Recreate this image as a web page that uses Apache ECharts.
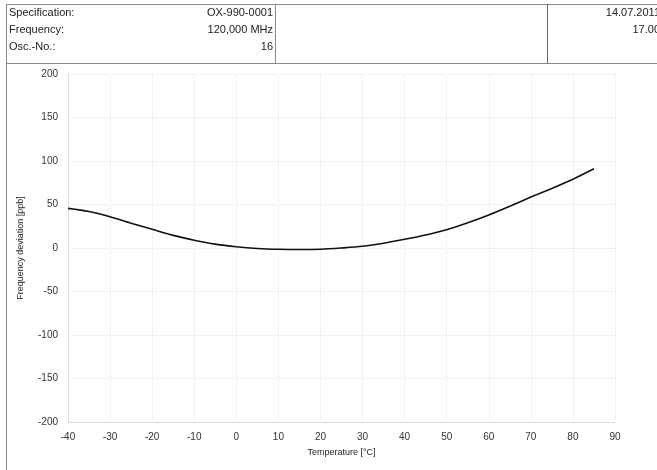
<!DOCTYPE html>
<html><head><meta charset="utf-8">
<script src="https://cdn.jsdelivr.net/npm/echarts@6/dist/echarts.min.js"></script>
<style>html,body{margin:0;padding:0;background:#fff}#c{width:657px;height:470px}</style>
</head><body><div id="c"></div>
<script>
const temperatures = [-40,-35,-30,-25,-20,-15,-10,-5,0,5,10,15,20,25,30,35,40,45,50,55,60,65,70,75,80,85];
const deviation = [45.5,42,36,28.5,21.5,14.5,9,4.5,1.5,-0.5,-1.5,-1.8,-1.5,0,2,5.5,10,15,21,29,38,48,58.5,68.5,79,91];
const xTicks = [-40,-30,-20,-10,0,10,20,30,40,50,60,70,80,90];
const yTicks = [-200,-150,-100,-50,0,50,100,150,200];
const headerLabels = ['Specification:','Frequency:','Osc.-No.:'];
const headerValues = ['OX-990-0001','120,000 MHz','16'];
const headerRight = ['14.07.2011','17.00'];

const chart = echarts.init(document.getElementById('c'), null, {renderer:'canvas'});
const font = 'Liberation Sans, Arial, sans-serif';
const gfx = [
  {type:'line', shape:{x1:7,y1:4.5,x2:657,y2:4.5}, style:{stroke:'#888',lineWidth:1}},
  {type:'line', shape:{x1:7,y1:63.5,x2:657,y2:63.5}, style:{stroke:'#888',lineWidth:1}},
  {type:'line', shape:{x1:6.5,y1:4,x2:6.5,y2:470}, style:{stroke:'#888',lineWidth:1}},
  {type:'line', shape:{x1:275.5,y1:4,x2:275.5,y2:63}, style:{stroke:'#888',lineWidth:1}},
  {type:'line', shape:{x1:547.5,y1:4,x2:547.5,y2:63}, style:{stroke:'#666',lineWidth:1}}
];
headerLabels.forEach((t,i)=>gfx.push({type:'text', left:9, top:7+i*17, style:{text:t, font:'11px '+font, fill:'#222'}}));
headerValues.forEach((t,i)=>gfx.push({type:'text', right:384, top:7+i*17, style:{text:t, font:'11px '+font, fill:'#222', align:'right'}}));
headerRight.forEach((t,i)=>gfx.push({type:'text', x:660, y:7+i*17, style:{text:t, font:'11px '+font, fill:'#222', align:'right', verticalAlign:'top'}}));

chart.setOption({
  animation:false,
  backgroundColor:'#fff',
  grid:{left:68, right:42, top:74, bottom:48},
  graphic:gfx,
  xAxis:{
    type:'value', min:xTicks[0], max:xTicks[xTicks.length-1], interval:10,
    name:'Temperature [°C]', nameLocation:'middle', nameGap:26,
    nameTextStyle:{fontSize:9, fontFamily:font, color:'#222'},
    axisLine:{onZero:false, lineStyle:{color:'#ddd'}}, axisTick:{show:false},
    axisLabel:{fontSize:10, fontFamily:font, color:'#333', margin:10},
    splitLine:{show:true, lineStyle:{color:'#e6e6e6', type:'dotted'}}
  },
  yAxis:{
    type:'value', min:yTicks[0], max:yTicks[yTicks.length-1], interval:50,
    name:'Frequency deviation [ppb]', nameLocation:'middle', nameGap:43,
    nameTextStyle:{fontSize:9, fontFamily:font, color:'#222'},
    axisLine:{show:true, onZero:false, lineStyle:{color:'#ddd'}}, axisTick:{show:false},
    axisLabel:{fontSize:10, fontFamily:font, color:'#333', margin:10},
    splitLine:{show:true, lineStyle:{color:'#e6e6e6', type:'dotted'}}
  },
  series:[{
    type:'line', data:temperatures.map((t,i)=>[t,deviation[i]]),
    smooth:0.3, showSymbol:false,
    lineStyle:{color:'#111', width:1.6}
  }]
});
</script></body></html>
